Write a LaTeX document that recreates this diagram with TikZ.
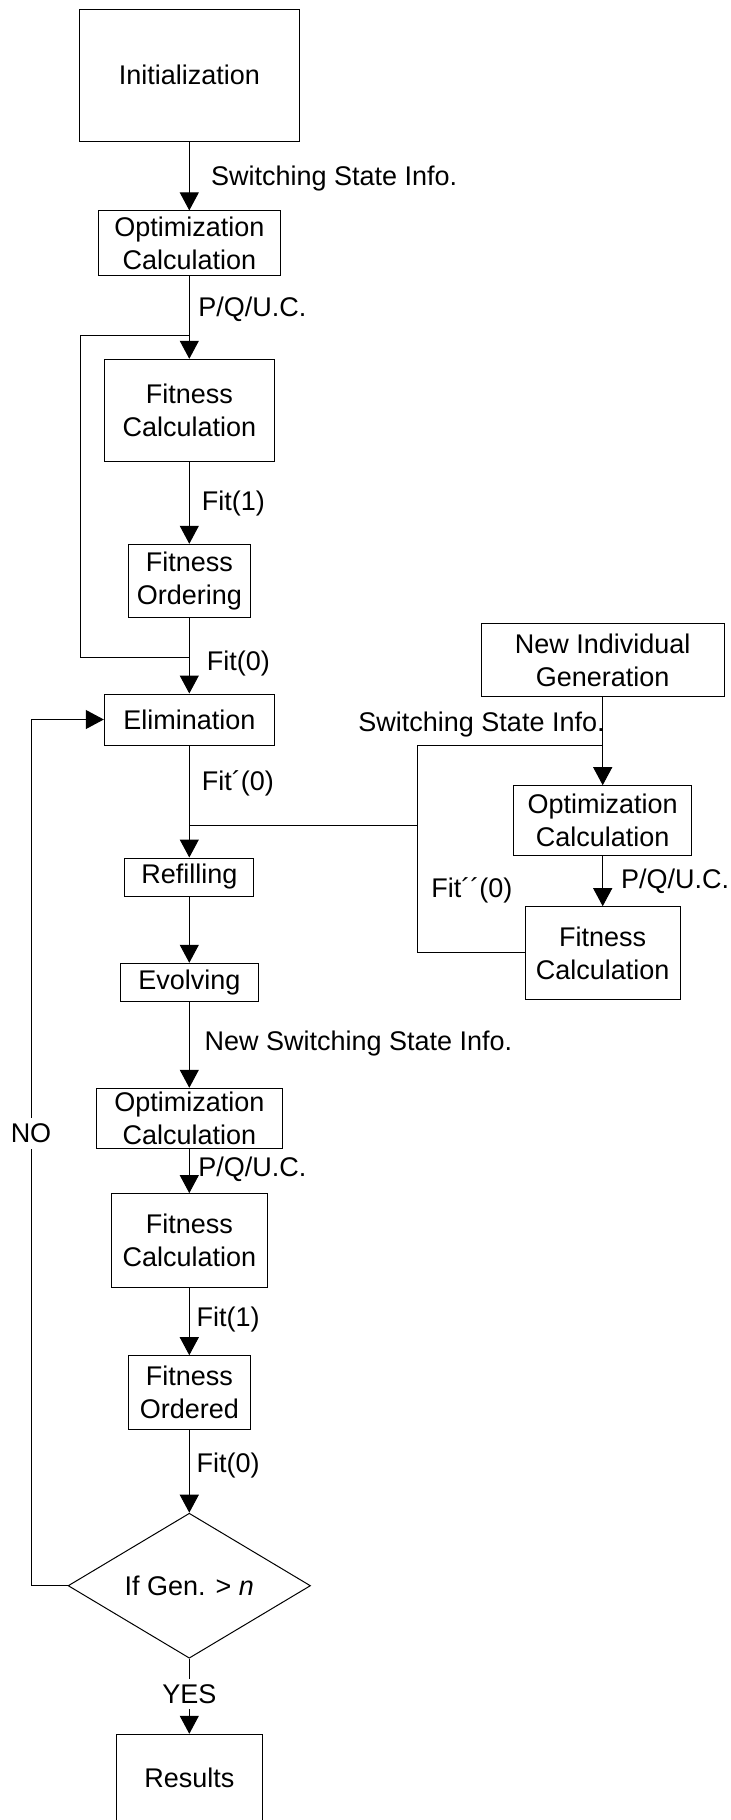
\documentclass[tikz,border=0pt]{standalone}
\usepackage{fontspec}
\setmainfont{Liberation Sans}
\usetikzlibrary{arrows.meta,shapes.geometric}
\begin{document}
\begin{tikzpicture}[x=0.5pt,y=-0.5pt,
  every node/.style={font=\fontsize{13.5pt}{16.5pt}\selectfont},
  box/.style={draw, line width=0.5pt, inner sep=0pt, align=center},
  lbl/.style={inner sep=0pt},
  link/.style={line width=0.5pt},
  arr/.style={link, -{Triangle[width=9.5pt,length=9pt]}},
]
\path[use as bounding box] (0,0) rectangle (731,1820);
\clip (0,0) rectangle (731,1820);

% main column
\node[box, minimum width=110pt, minimum height=66pt] (init) at (189.3,75) {Initialization};
\node[box, minimum width=91.2pt, minimum height=32.4pt] (opt1) at (189.3,243.3) {Optimization\\Calculation};
\node[box, minimum width=85.3pt, minimum height=50.9pt] (fit1) at (189.3,410.2) {Fitness\\Calculation};
\node[box, minimum width=60.7pt, minimum height=36.5pt] (ord1) at (189.3,580.8) {Fitness\\Ordering};
\node[box, minimum width=85pt, minimum height=25.5pt] (elim) at (189.3,719.5) {Elimination};
\node[box, minimum width=64.5pt, minimum height=19pt] (refill) at (189.3,877) {Refilling};
\node[box, minimum width=69.2pt, minimum height=19.2pt] (evolve) at (189.3,982.5) {Evolving};
\node[box, minimum width=93.2pt, minimum height=30pt] (opt2) at (189.3,1118.3) {Optimization\\Calculation};
\node[box, minimum width=77.8pt, minimum height=46.7pt] (fit2) at (189.3,1240.3) {Fitness\\Calculation};
\node[box, minimum width=60.7pt, minimum height=36.8pt] (ord2) at (189.3,1392.5) {Fitness\\Ordered};
\node[box, diamond, aspect=1.67, minimum width=121.2pt, minimum height=72.5pt] (dec) at (189.3,1585.7) {If Gen. > \textit{n}};
\node[box, minimum width=73pt, minimum height=43.7pt] (res) at (189.3,1778) {Results};

% side branch
\node[box, minimum width=121.5pt, minimum height=36.6pt] (newind) at (602.7,660) {New Individual\\Generation};
\node[box, minimum width=88.9pt, minimum height=35pt] (optR) at (602.7,820.7) {Optimization\\Calculation};
\node[box, minimum width=77.7pt, minimum height=46.2pt] (fitR) at (602.7,952.9) {Fitness\\Calculation};

% junction points
\coordinate (ja) at (189.3,335);
\coordinate (la) at (80,335);
\coordinate (lb) at (80,657);
\coordinate (jb) at (189.3,657);
\coordinate (mj) at (189.3,825.5);
\coordinate (rm) at (417.3,825.5);
\coordinate (rj) at (602.7,745);
\coordinate (rc) at (417.3,745);
\coordinate (rb) at (417.3,952.9);
\coordinate (nol) at (31,1585.7);

% main flow
\draw[arr] (init) -- (opt1);
\draw[arr] (opt1) -- (fit1);
\draw[arr] (fit1) -- (ord1);
\draw[arr] (ord1) -- (elim);
\draw[arr] (elim) -- (refill);
\draw[arr] (refill) -- (evolve);
\draw[arr] (evolve) -- (opt2);
\draw[arr] (opt2) -- (fit2);
\draw[arr] (fit2) -- (ord2);
\draw[arr] (ord2) -- (dec);
\draw[arr] (dec) -- (res) node[pos=0.47, fill=white, inner xsep=1pt, inner ysep=2.5pt] (yes) {YES};

% bypass loop around fitness steps
\draw[link] (ja) -- (la) -- (lb) -- (jb);

% side branch flow
\draw[arr] (newind) -- (optR);
\draw[arr] (optR) -- (fitR);
\draw[link] (fitR.west) -- (rb) -- (rc) -- (rj);
\draw[link] (rm) -- (mj);

% return loop
\draw[arr] (dec.west) -- (nol) |- (elim.west);
\node[fill=white, inner xsep=1pt, inner ysep=3pt, anchor=base] (no) at (31,1142.7) {NO};

% connector labels
\node[lbl, anchor=base west] (l1) at (210.7,185) {Switching State Info.};
\node[lbl, anchor=base west] (l2) at (198,316.7) {P/Q/U.C.};
\node[lbl, anchor=base west] (l3) at (201.4,510) {Fit(1)};
\node[lbl, anchor=base west] (l4) at (206.5,670) {Fit(0)};
\node[lbl, anchor=base west] (l5) at (201.4,790) {Fit´(0)};
\node[lbl, anchor=base west] (l6) at (204.2,1050.7) {New Switching State Info.};
\node[lbl, anchor=base west] (l7) at (198,1176) {P/Q/U.C.};
\node[lbl, anchor=base west] (l8) at (196.3,1326.7) {Fit(1)};
\node[lbl, anchor=base west] (l9) at (196.3,1472.7) {Fit(0)};
\node[lbl, anchor=base east] (r1) at (605,731.7) {Switching State Info.};
\node[lbl, anchor=base west] (r2) at (620.7,888.3) {P/Q/U.C.};
\node[lbl, anchor=base west] (r3) at (431,897.7) {Fit´´(0)};
\end{tikzpicture}
\end{document}
